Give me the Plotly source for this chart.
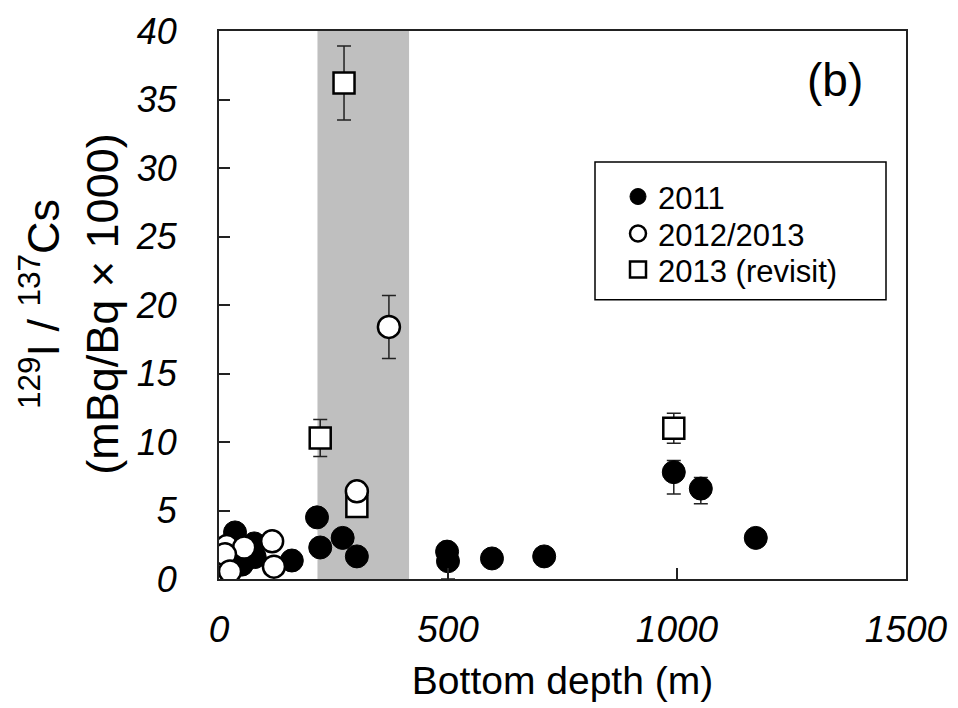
import plotly.graph_objects as go

# ---- data ----
x_2011 = [35, 77, 78, 50, 159, 214, 221, 270, 301, 498, 500, 596, 710, 993, 1052, 1172]
y_2011 = [3.4, 2.6, 1.6, 1.05, 1.35, 4.5, 2.3, 3.0, 1.65, 2.0, 1.3, 1.5, 1.65, 7.8, 6.6, 3.0]
err_2011_plus = [0, 0, 0, 0, 0, 0, 0, 0, 0, 0, 0, 0, 0, 0.85, 0.8, 0]
err_2011_minus = [0, 0, 0, 0, 0, 0, 0, 0, 0, 0, 1.3, 0, 0, 1.6, 1.1, 0]

x_1213 = [17, 55, 13, 24, 116, 120, 301, 371]
y_1213 = [2.4, 2.3, 1.8, 0.55, 2.75, 0.9, 6.4, 18.4]
err_1213 = [0, 0, 0, 0, 0, 0, 0, 2.3]

x_rev = [221, 273, 301, 993]
y_rev = [10.3, 36.2, 5.3, 11.0]
err_rev = [1.35, 2.7, 0, 1.1]

band_x = [215, 415]
x_ticks = [0, 500, 1000, 1500]
y_ticks = [0, 5, 10, 15, 20, 25, 30, 35, 40]

FONT = "Liberation Sans, Arial, sans-serif"
ERR = dict(color="#222222", thickness=1.5, width=7)

# page body has an 8px default margin; the figure is sized to fit the window
BODY = 8
W, H = 958, 708
# plot-area geometry in window pixels (used only to place layout decorations)
PL, PR, PT, PB = 219, 906, 31, 579.5
def px(xp):
    return (xp - PL) / (PR - PL)
def py(yp):
    return (PB - yp) / (PB - PT)

fig = go.Figure()

fig.add_trace(go.Scatter(
    x=x_2011, y=y_2011, mode="markers", name="2011", legend="legend",
    marker=dict(symbol="circle", size=23, color="black",
                line=dict(color="black", width=1)),
    error_y=dict(type="data", symmetric=False, array=err_2011_plus,
                 arrayminus=err_2011_minus, **ERR),
))
fig.add_trace(go.Scatter(
    x=x_rev, y=y_rev, mode="markers", name="2013 (revisit)", legend="legend3",
    marker=dict(symbol="square", size=21, color="white",
                line=dict(color="black", width=2.5)),
    error_y=dict(type="data", array=err_rev, **ERR),
))
fig.add_trace(go.Scatter(
    x=x_1213, y=y_1213, mode="markers", name="2012/2013", legend="legend2",
    marker=dict(symbol="circle", size=22, color="white",
                line=dict(color="black", width=2.5)),
    error_y=dict(type="data", array=err_1213, **ERR),
))

fig.add_shape(type="rect", xref="x", yref="paper", x0=band_x[0], x1=band_x[1],
              y0=0, y1=1, fillcolor="#bfbfbf", line=dict(width=0), layer="below")

# legend frame
fig.add_shape(type="rect", xref="paper", yref="paper",
              x0=px(595), x1=px(886), y0=py(300), y1=py(162),
              line=dict(color="black", width=1.5), fillcolor="white", layer="below")

fig.add_annotation(text="(b)", xref="paper", yref="paper",
                   x=px(835), y=py(80), xanchor="center", yanchor="middle",
                   showarrow=False, font=dict(size=46, family=FONT, color="black"))

# y-axis title (two lines)
fig.add_annotation(text="<sup>129</sup>I / <sup>137</sup>Cs<br>(mBq/Bq × 1000)",
                   xref="paper", yref="paper", x=px(69), y=py(305),
                   xanchor="center", yanchor="middle", textangle=-90,
                   showarrow=False, font=dict(size=45, family=FONT, color="black"))

LEG = dict(xanchor="left", yanchor="top", bgcolor="rgba(0,0,0,0)", borderwidth=0,
           font=dict(size=31, family=FONT, color="black"))

fig.update_layout(
    width=W - BODY, height=H - BODY,
    margin=dict(l=PL - BODY, r=W - PR, t=PT - BODY, b=H - PB),
    paper_bgcolor="white", plot_bgcolor="white",
    font=dict(family=FONT, color="black"),
    legend=dict(x=px(618), y=py(170), **LEG),
    legend2=dict(x=px(618), y=py(207), **LEG),
    legend3=dict(x=px(618), y=py(243), **LEG),
    showlegend=True,
)

fig.update_xaxes(
    range=[0, 1500], tickvals=x_ticks, ticks="inside", ticklen=11, tickwidth=1.5,
    tickcolor="#222222", showline=True, linewidth=2, linecolor="#222222", mirror=True,
    showgrid=False, zeroline=False, ticklabelstandoff=17, automargin=False,
    tickfont=dict(size=37, family=FONT, style="italic", color="black"),
    title=dict(text="Bottom depth (m)", font=dict(size=39, family=FONT, color="black"),
               standoff=17),
)
fig.update_yaxes(
    range=[0, 40], tickvals=y_ticks, ticks="inside", ticklen=11, tickwidth=1.5,
    tickcolor="#222222", showline=True, linewidth=2, linecolor="#222222", mirror=True,
    showgrid=False, zeroline=False, ticklabelstandoff=33, automargin=False,
    tickfont=dict(size=36, family=FONT, style="italic", color="black"),
)

fig.write_html("out.html")
